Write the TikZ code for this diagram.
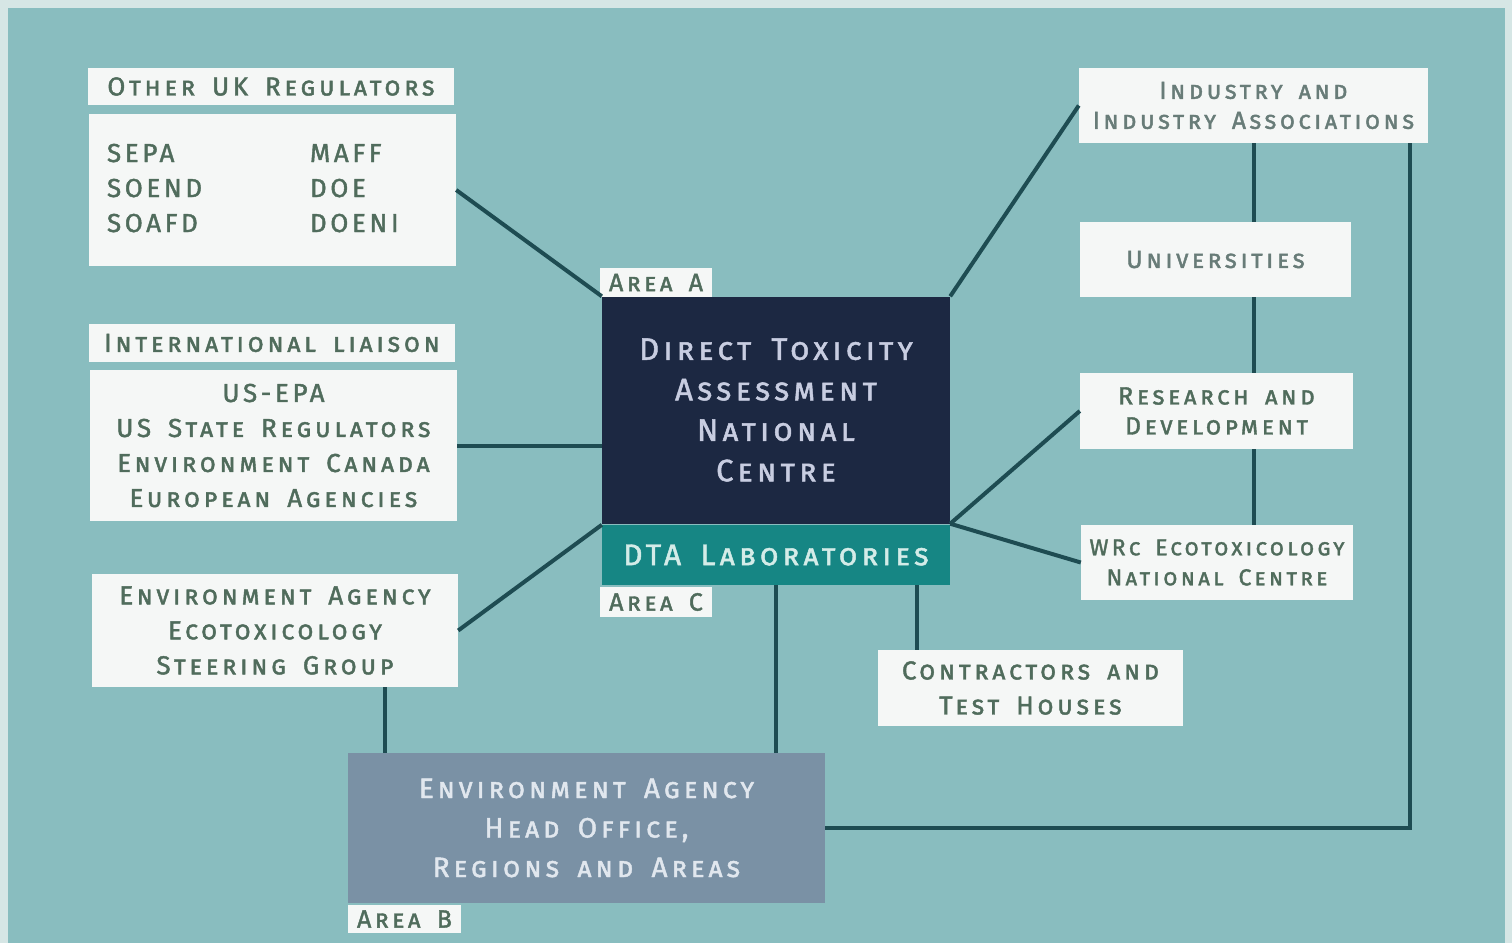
\documentclass[tikz,border=0pt]{standalone}
\usepackage{fontspec}
\setmainfont{Fira Sans}[LetterSpace=14, WordSpace=1.6, FakeBold=1.6]
\definecolor{outer}{RGB}{214,230,229}
\definecolor{teal}{RGB}{137,189,191}
\definecolor{boxwhite}{RGB}{245,247,246}
\definecolor{boxtext}{RGB}{80,108,92}
\definecolor{boxgrey}{RGB}{104,124,120}
\definecolor{dtadark}{RGB}{28,40,66}
\definecolor{dtatext}{RGB}{200,205,225}
\definecolor{labteal}{RGB}{22,134,132}
\definecolor{labtext}{RGB}{212,236,232}
\definecolor{hqgrey}{RGB}{122,145,165}
\definecolor{hqtext}{RGB}{225,231,238}
\definecolor{connline}{RGB}{30,76,82}
\begin{document}
\begin{tikzpicture}[x=1pt,y=-1pt,
    box/.style={fill=boxwhite, text=boxtext, align=center, inner sep=0pt,
        font=\fontsize{26}{35}\selectfont\scshape},
    tag/.style={box, font=\fontsize{25}{30}\selectfont\scshape},
    conn/.style={line width=4pt, draw=connline}]
    \useasboundingbox (0,0) rectangle (1512,943);
    \fill[outer] (0,0) rectangle (1512,943);
    \fill[teal] (8,8) rectangle (1505,943);

    % left column
    \node[box, minimum width=366, minimum height=37] (othhead) at (271,86.5) {Other UK Regulators};
    \node[box, minimum width=367, minimum height=152, text width=331, align=left] (othbody) at (272.5,190)
        {\begin{tabular}{@{}p{203pt}@{}l@{}}SEPA & MAFF\\ SOEND & DOE\\ SOAFD & DOENI\end{tabular}};
    \node[box, minimum width=366, minimum height=38] (inthead) at (272,343) {International liaison};
    \node[box, minimum width=367, minimum height=151] (intbody) at (273.5,445.5)
        {US-EPA\\ US State Regulators\\ Environment Canada\\ European Agencies};
    \node[box, minimum width=366, minimum height=113] (steer) at (275,630.5)
        {Environment Agency\\ Ecotoxicology\\ Steering Group};

    % centre
    \node[tag, minimum width=112, minimum height=29] (areaA) at (656,282.5) {Area A};
    \node[fill=dtadark, text=dtatext, align=center, minimum width=348, minimum height=227,
        font=\fontsize{31}{40.5}\selectfont\scshape] (dtanc) at (776,410)
        {Direct Toxicity\\ Assessment\\ National\\ Centre};
    \node[fill=labteal, text=labtext, minimum width=348, minimum height=60,
        font=\fontsize{30}{35}\selectfont\scshape] (dtalab) at (776,555) {DTA Laboratories};
    \node[tag, minimum width=112, minimum height=30] (areaC) at (656,602) {Area C};

    % right column
    \node[box, text=boxgrey, minimum width=349, minimum height=75,
        font=\fontsize{24.5}{30}\selectfont\scshape] (industry) at (1253.5,105.5)
        {Industry and\\ Industry Associations};
    \node[box, text=boxgrey, minimum width=271, minimum height=75,
        font=\fontsize{25}{30}\selectfont\scshape] (univ) at (1215.5,259.5) {Universities};
    \node[box, minimum width=273, minimum height=76,
        font=\fontsize{25}{30}\selectfont\scshape] (rnd) at (1216.5,411) {Research and\\ Development};
    \node[box, minimum width=272, minimum height=75,
        font=\fontsize{23}{30}\selectfont\scshape] (wrc) at (1217,562.5) {WRc Ecotoxicology\\ National Centre};
    \node[box, minimum width=305, minimum height=76] (contr) at (1030.5,688) {Contractors and\\ Test Houses};

    % bottom
    \node[fill=hqgrey, text=hqtext, align=center, minimum width=477, minimum height=150,
        font=\fontsize{28}{39.5}\selectfont\scshape] (eahq) at (586.5,828)
        {Environment Agency\\ Head Office,\\ Regions and Areas};
    \node[tag, minimum width=113, minimum height=28] (areaB) at (404.5,919) {Area B};

    \coordinate (labc) at (917,585);
    \coordinate (steerc) at (385,687);
    \coordinate (indc) at (1410,143);

    \draw[conn] (othbody.east) -- (dtanc.north west);
    \draw[conn] (intbody.east) -- (dtanc.west |- intbody.east);
    \draw[conn] (steer.east) -- (dtalab.north west);
    \draw[conn] (dtanc.north east) -- (industry.west);
    \draw[conn] (dtanc.south east) -- (rnd.west);
    \draw[conn] (dtanc.south east) -- (wrc.west);
    \draw[conn] (industry.south) -- (industry.south |- univ.north);
    \draw[conn] (industry.south |- univ.south) -- (industry.south |- rnd.north);
    \draw[conn] (industry.south |- rnd.south) -- (industry.south |- wrc.north);
    \draw[conn] (labc) -- (labc |- contr.north);
    \draw[conn] (dtalab.south) -- (dtalab.south |- eahq.north);
    \draw[conn] (steerc) -- (steerc |- eahq.north);
    \draw[conn] (eahq.east) -| (indc);
\end{tikzpicture}
\end{document}
